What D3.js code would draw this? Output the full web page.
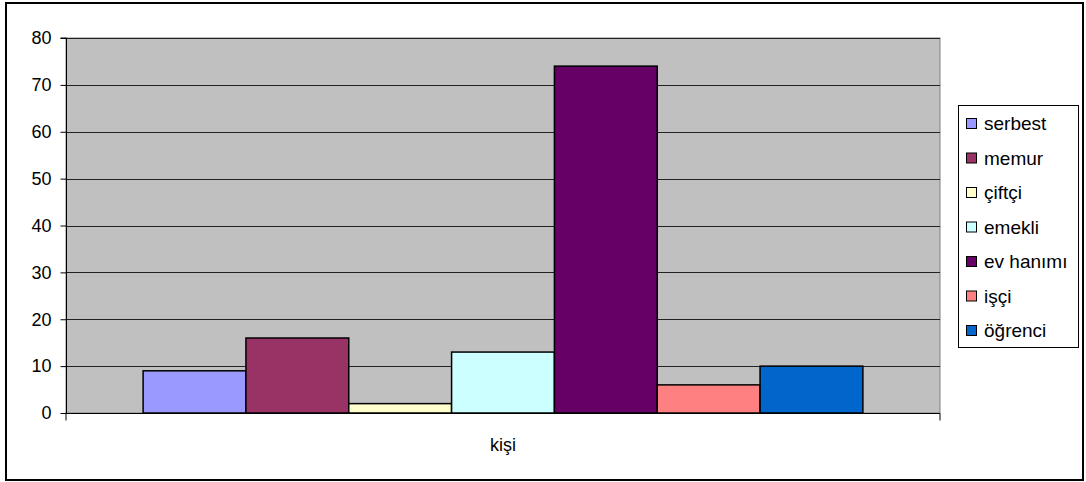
<!DOCTYPE html>
<html>
<head>
<meta charset="utf-8">
<script src="https://cdn.jsdelivr.net/npm/d3@7/dist/d3.min.js"></script>
<style>
  html, body { margin: 0; padding: 0; background: #fff; }
  svg { display: block; font-family: "Liberation Sans", Arial, sans-serif; }
</style>
</head>
<body>
<svg id="chart" width="1086" height="482"></svg>
<script>
// Occupation counts (single category "kişi", one series per occupation)
const category = "kişi";
const seriesNames = ["serbest", "memur", "çiftçi", "emekli", "ev hanımı", "işçi", "öğrenci"];
const seriesValues = [9, 16, 2, 13, 74, 6, 10];
const seriesColors = ["#9999FF", "#993366", "#FFFFCC", "#CCFFFF", "#660066", "#FF8080", "#0066CC"];
const yTicks = [0, 10, 20, 30, 40, 50, 60, 70, 80];

const svg = d3.select("#chart");

// outer chart frame
svg.append("rect")
  .attr("x", 6).attr("y", 3).attr("width", 1077).attr("height", 477)
  .attr("fill", "#fff").attr("stroke", "#000").attr("stroke-width", 2);

const plot = { left: 66, top: 38, right: 940, bottom: 413 };

const y = d3.scaleLinear().domain([0, 80]).range([plot.bottom, plot.top]);
const x0 = d3.scaleBand().domain([category]).range([plot.left, plot.right]).paddingInner(0).paddingOuter(0);

// plot background
svg.append("rect")
  .attr("x", plot.left).attr("y", plot.top)
  .attr("width", plot.right - plot.left).attr("height", plot.bottom - plot.top)
  .attr("fill", "#C0C0C0").attr("stroke", "#808080").attr("stroke-width", 1);

// horizontal gridlines
svg.append("g").selectAll("line")
  .data(yTicks.filter(d => d > 0))
  .join("line")
  .attr("x1", plot.left).attr("x2", plot.right)
  .attr("y1", d => Math.round(y(d)) + 0.5).attr("y2", d => Math.round(y(d)) + 0.5)
  .attr("stroke", "#222").attr("stroke-width", 1);

// bars: gap width 150% of one bar, split evenly on both sides
const bandW = x0.bandwidth();
const barW = bandW / (seriesNames.length + 1.5);
const x1 = d3.scaleBand().domain(seriesNames)
  .range([x0(category) + 0.75 * barW, x0(category) + bandW - 0.75 * barW])
  .padding(0);

svg.append("g").selectAll("rect")
  .data(seriesNames.map((n, i) => ({ name: n, value: seriesValues[i], color: seriesColors[i] })))
  .join("rect")
  .attr("x", d => x1(d.name))
  .attr("y", d => y(d.value))
  .attr("width", x1.bandwidth())
  .attr("height", d => y(0) - y(d.value))
  .attr("fill", d => d.color)
  .attr("stroke", "#000").attr("stroke-width", 1.5);

// y axis
const yAxis = d3.axisLeft(y).tickValues(yTicks).tickSize(6).tickPadding(9);
const gy = svg.append("g").attr("transform", `translate(${plot.left + 0.5},0)`).call(yAxis);
gy.select(".domain").attr("stroke", "#000").attr("d", `M-6,${plot.top}H0V${plot.bottom}`);
gy.selectAll(".tick line").attr("stroke", "#000");
gy.selectAll(".tick text").attr("fill", "#000").style("font-size", "18px")
  .attr("font-family", "Liberation Sans, Arial, sans-serif");

// x axis
const xAxis = d3.axisBottom(x0).tickSize(0).tickPadding(0);
const gx = svg.append("g").attr("transform", `translate(0,${plot.bottom + 0.5})`).call(xAxis);
gx.select(".domain").attr("stroke", "#000")
  .attr("d", `M${plot.left},7V0H${plot.right}V7`);
gx.selectAll(".tick text").attr("fill", "#000").style("font-size", "18px")
  .attr("font-family", "Liberation Sans, Arial, sans-serif")
  .attr("dy", "0").attr("y", 37);

// legend
const lg = svg.append("g");
lg.append("rect")
  .attr("x", 958.5).attr("y", 105.5).attr("width", 120).attr("height", 242)
  .attr("fill", "#fff").attr("stroke", "#000").attr("stroke-width", 1);
const items = lg.selectAll("g.item")
  .data(seriesNames.map((n, i) => ({ name: n, color: seriesColors[i] })))
  .join("g").attr("class", "item")
  .attr("transform", (d, i) => `translate(966,${123 + i * 34.5})`);
items.append("rect")
  .attr("x", 0.5).attr("y", -4.5).attr("width", 10).attr("height", 10)
  .attr("fill", d => d.color).attr("stroke", "#000").attr("stroke-width", 1);
items.append("text")
  .attr("x", 18).attr("y", 7)
  .style("font-size", "19px").attr("fill", "#000")
  .text(d => d.name);
</script>
</body>
</html>
